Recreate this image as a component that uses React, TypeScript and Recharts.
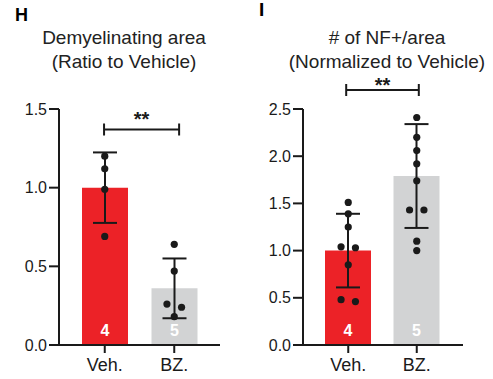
import React from "react";
import {
  Bar,
  Cell,
  ComposedChart,
  ErrorBar,
  LabelList,
  ReferenceLine,
  Scatter,
  XAxis,
  YAxis,
} from "recharts";

// groups + n per group (printed inside bars)
const groups = ["Veh.", "BZ."];
const groupN = ["4", "5"];

// H: demyelinating area, ratio to vehicle
const demyMean = [1.0, 0.36];
const demySd = [0.224, 0.19];
const demyVeh = [1.2, 1.12, 0.99, 0.69];
const demyBz = [0.64, 0.47, 0.26, 0.24, 0.18];
const demyTicks = [0, 0.5, 1, 1.5];

// I: # of NF+/area, normalized to vehicle
const nfMean = [1.0, 1.79];
const nfSd = [0.39, 0.55];
const nfVeh = [1.51, 1.39, 1.25, 1.04, 1.03, 0.85, 0.48, 0.46];
const nfBz = [2.41, 2.2, 2.06, 1.92, 1.74, 1.43, 1.43, 1.1, 1.0];
const nfTicks = [0, 0.5, 1, 1.5, 2, 2.5];

const RED = "#ec2227";
const GREY = "#d2d3d4";
const INK = "#1a1a1a";
const FONT = '"Liberation Sans", Arial, sans-serif';

/** Prism-style scatter: points that would overlap get spread sideways. */
function spread(values: number[], group: number, close: number) {
  const sorted = [...values].sort((a, b) => b - a);
  const out: { x: number; v: number }[] = [];
  let i = 0;
  while (i < sorted.length) {
    let j = i + 1;
    while (j < sorted.length && sorted[j - 1] - sorted[j] < close) j++;
    const n = j - i;
    for (let k = 0; k < n; k++) {
      out.push({ x: group + (k - (n - 1) / 2) * 0.21, v: sorted[i + k] });
    }
    i = j;
  }
  return out;
}

function makeBracket(starShift: number) {
  return function Bracket(props: any) {
    const { x1, x2, y1 } = props;
    return (
      <g>
        <path
          d={`M${x1},${y1}H${x2}M${x1},${y1 - 6}V${y1 + 6}M${x2},${y1 - 6}V${y1 + 6}`}
          stroke={INK}
          strokeWidth={2}
          fill="none"
        />
        <text
          x={(x1 + x2) / 2}
          y={y1 + starShift}
          textAnchor="middle"
          fontSize={20}
          fontWeight="bold"
          fill={INK}
          fontFamily={FONT}
        >
          **
        </text>
      </g>
    );
  };
}

function NLabel(props: any) {
  const { x, y, width, height, value } = props;
  return (
    <text
      x={x + width / 2}
      y={y + height - 9}
      textAnchor="middle"
      fill="#fff"
      fontSize={16}
      fontWeight="bold"
      fontFamily={FONT}
    >
      {value}
    </text>
  );
}

function Panel(p: {
  width: number;
  left: number;
  marginLeft: number;
  marginRight: number;
  means: number[];
  sd: number[];
  veh: number[];
  bz: number[];
  ticks: number[];
  bracket: [number, number, number];
  starShift: number;
  pad: { left: number; right: number };
}) {
  const yMax = p.ticks[p.ticks.length - 1];
  const data = groups.map((g, i) => ({
    name: g,
    v: p.means[i],
    sd: p.sd[i],
    n: groupN[i],
  }));
  const close = yMax * 0.03;
  const pts = [...spread(p.veh, 0, close), ...spread(p.bz, 1, close)];
  const [bx1, bx2, by] = p.bracket;
  const tickStyle = { fill: INK, fontSize: 16, fontFamily: FONT };
  return (
    <div style={{ position: "absolute", left: p.left, top: 0 }}>
      <ComposedChart
        width={p.width}
        height={379}
        data={data}
        margin={{ top: 109, right: p.marginRight, bottom: 4, left: p.marginLeft }}
      >
        <XAxis
          dataKey="name"
          padding={p.pad}
          height={30}
          tick={{ fill: INK, fontSize: 18, fontFamily: FONT }}
          tickSize={8}
          tickMargin={5}
          axisLine={{ stroke: INK, strokeWidth: 2 }}
          tickLine={{ stroke: INK, strokeWidth: 2 }}
        />
        <XAxis
          xAxisId="n"
          dataKey="x"
          type="number"
          domain={[-0.5, 1.5]}
          allowDataOverflow
          padding={p.pad}
          hide
        />
        <YAxis
          dataKey="v"
          width={49}
          domain={[0, yMax]}
          ticks={p.ticks}
          interval={0}
          allowDataOverflow
          tickFormatter={(t) => (t as number).toFixed(1)}
          tick={tickStyle}
          tickSize={10}
          tickMargin={2}
          axisLine={{ stroke: INK, strokeWidth: 2 }}
          tickLine={{ stroke: INK, strokeWidth: 2 }}
        />
        <Bar dataKey="v" barSize={46} isAnimationActive={false}>
          {data.map((d, i) => (
            <Cell key={d.name} fill={i === 0 ? RED : GREY} />
          ))}
          <ErrorBar dataKey="sd" width={12} stroke={INK} strokeWidth={2} direction="y" />
          <LabelList dataKey="n" content={NLabel} />
        </Bar>
        <Scatter
          xAxisId="n"
          data={pts}
          dataKey="v"
          isAnimationActive={false}
          shape={(s: any) => <circle cx={s.cx} cy={s.cy} r={3.6} fill={INK} />}
        />
        <ReferenceLine
          xAxisId="n"
          ifOverflow="visible"
          segment={[
            { x: bx1, y: by },
            { x: bx2, y: by },
          ]}
          shape={makeBracket(p.starShift)}
        />
      </ComposedChart>
    </div>
  );
}

const titleStyle: React.CSSProperties = {
  position: "absolute",
  top: 26,
  width: 260,
  textAlign: "center",
  fontSize: 19,
  lineHeight: "24px",
  color: "#222",
};

export default function App() {
  return (
    <div
      style={{
        position: "absolute",
        left: 0,
        top: 0,
        width: 493,
        height: 379,
        background: "#fff",
        fontFamily: FONT,
        overflow: "hidden",
      }}
    >
      <div style={{ position: "absolute", left: 15, top: 5, fontSize: 18, fontWeight: "bold" }}>H</div>
      <div style={{ position: "absolute", left: 259, top: -1, fontSize: 19, fontWeight: "bold" }}>I</div>
      <div style={{ ...titleStyle, left: 124 - 130 }}>
        Demyelinating area
        <br />
        (Ratio to Vehicle)
      </div>
      <div style={{ ...titleStyle, left: 387 - 130 }}>
        # of NF+/area
        <br />
        (Normalized to Vehicle)
      </div>
      <Panel
        width={240}
        left={0}
        marginLeft={10}
        marginRight={20}
        means={demyMean}
        sd={demySd}
        veh={demyVeh}
        bz={demyBz}
        ticks={demyTicks}
        bracket={[-0.01, 1.07, 1.37]}
        starShift={-3}
        pad={{ left: 11, right: 11 }}
      />
      <Panel
        width={243}
        left={250}
        marginLeft={4}
        marginRight={30}
        means={nfMean}
        sd={nfSd}
        veh={nfVeh}
        bz={nfBz}
        ticks={nfTicks}
        bracket={[-0.03, 1.03, 2.7]}
        starShift={2}
        pad={{ left: 11, right: 12 }}
      />
    </div>
  );
}
